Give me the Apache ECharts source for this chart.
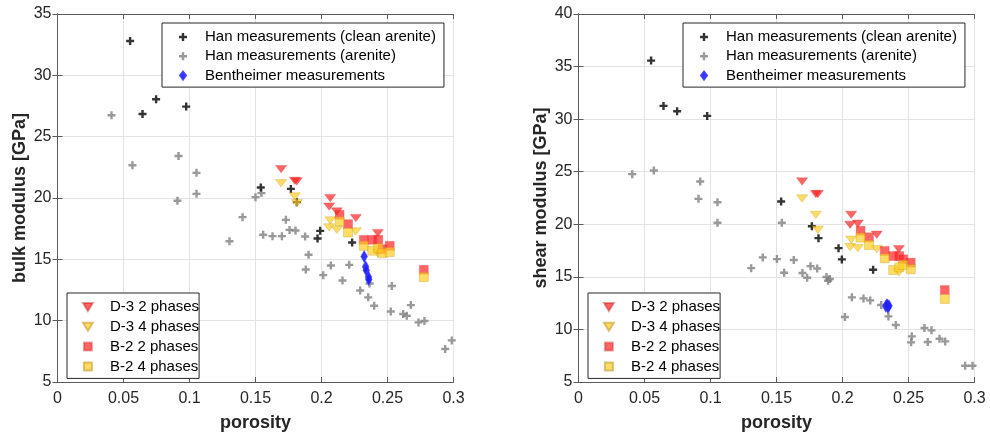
<!DOCTYPE html>
<html>
<head>
<meta charset="utf-8">
<script src="https://cdn.jsdelivr.net/npm/echarts@6/dist/echarts.min.js"></script>
<style>
html,body{margin:0;padding:0;background:#fff;}
#chart{width:990px;height:437px;}
</style>
</head>
<body>
<div id="chart"></div>
<script>
// ---------- data ----------
const xTicks = [0, 0.05, 0.1, 0.15, 0.2, 0.25, 0.3];
const seriesNames = ['Han measurements (clean arenite)', 'Han measurements (arenite)', 'Bentheimer measurements',
                     'D-3 2 phases', 'D-3 4 phases', 'B-2 2 phases', 'B-2 4 phases'];

// Han clean arenite
const hanCleanPhiK = [0.055, 0.0644, 0.0747, 0.0975, 0.154, 0.1768, 0.1813, 0.199, 0.197, 0.2232];
const hanCleanK    = [32.8, 26.85, 28.05, 27.45, 20.85, 20.74, 19.66, 17.32, 16.7, 16.37];
const hanCleanPhiG = [0.055, 0.0644, 0.0747, 0.0975, 0.1535, 0.1768, 0.1818, 0.197, 0.1995, 0.2232];
const hanCleanG    = [35.57, 31.26, 30.75, 30.31, 22.17, 19.82, 18.68, 17.73, 16.66, 15.67];

// Han arenite
const hanPhiK = [0.0409, 0.0568, 0.0917, 0.0909, 0.1053, 0.1053, 0.1303, 0.1402, 0.15, 0.1545, 0.1558, 0.1629, 0.17, 0.173, 0.1758, 0.1803, 0.1876, 0.1902, 0.1881, 0.2013, 0.2071, 0.2159, 0.221, 0.2293, 0.2354, 0.2364, 0.2399, 0.2533, 0.2525, 0.2619, 0.2646, 0.2677, 0.2735, 0.278, 0.2937, 0.2987];
const hanK    = [26.74, 22.67, 23.43, 19.77, 22.05, 20.34, 16.48, 18.44, 20.07, 20.4, 17.0, 16.89, 16.89, 18.22, 17.4, 17.35, 16.86, 15.37, 14.17, 13.71, 14.5, 13.28, 14.55, 12.46, 11.9, 13.03, 11.22, 12.82, 10.75, 10.54, 10.4, 11.27, 9.86, 9.97, 7.69, 8.39];
const hanPhiG = [0.0407, 0.0571, 0.0922, 0.0909, 0.1053, 0.1053, 0.1308, 0.1396, 0.1503, 0.1558, 0.1631, 0.154, 0.1697, 0.1732, 0.1758, 0.1808, 0.1879, 0.1891, 0.1904, 0.2018, 0.2071, 0.2159, 0.221, 0.2293, 0.2348, 0.2404, 0.2525, 0.252, 0.2621, 0.2674, 0.2646, 0.2735, 0.2778, 0.2929, 0.2985];
const hanG    = [24.77, 25.11, 24.07, 22.42, 22.1, 20.14, 15.83, 16.85, 16.69, 15.39, 16.6, 20.14, 15.36, 14.91, 16.02, 15.8, 14.98, 14.63, 14.79, 11.18, 13.05, 12.95, 12.76, 12.32, 11.24, 10.42, 9.34, 8.77, 10.13, 9.91, 8.8, 9.12, 8.86, 6.55, 6.55];

// Bentheimer
const benPhiK = [0.2323, 0.2334, 0.2339, 0.2356, 0.2358];
const benK    = [15.23, 14.4, 14.1, 13.55, 13.35];
const benPhiG = [0.2328, 0.2336, 0.2344, 0.2352, 0.2340];
const benG    = [12.2, 12.35, 12.1, 12.25, 12.3];

// D-3 sample
const d3Phi  = [0.1694, 0.1798, 0.1813, 0.2066, 0.2058, 0.2116, 0.226, 0.2427];
const d3K2ph = [22.35, 21.4, 21.35, 19.99, 19.3, 18.9, 18.36, 17.14];
const d3K4ph = [21.2, 20.12, 19.58, 18.17, 17.6, 17.4, 17.27, 15.5];
const d3G2ph = [24.07, 22.87, 22.87, 20.9, 19.95, 20.05, 19.0, 17.64];
const d3G4ph = [22.45, 20.9, 19.48, 18.53, 17.83, 17.73, 17.64, 15.42];

// B-2 sample
const b2Phi  = [0.2137, 0.2201, 0.232, 0.2384, 0.243, 0.246, 0.2517, 0.2775];
const b2K2ph = [18.63, 17.87, 16.59, 16.59, 16.6, 15.83, 16.1, 14.15];
const b2K4ph = [18.09, 17.19, 16.1, 15.7, 15.9, 15.5, 15.59, 13.55];
const b2G2ph = [19.39, 18.76, 17.46, 16.98, 16.98, 16.67, 16.35, 13.75];
const b2G4ph = [18.73, 18.03, 16.76, 15.65, 15.9, 16.13, 15.72, 12.9];

// ---------- chart ----------
const FONT = '"Liberation Sans", Arial, Helvetica, sans-serif';
const AX = '#262626';
const AXL = '#5a5a5a';
const PLUS = 'path://M0,2.8H2.8V0H5.2V2.8H8V5.2H5.2V8H2.8V5.2H0Z';
const TRI_DOWN = 'path://M0,0L11,0L5.5,9Z';
const DIAMOND = 'path://M4.5,0L9,6L4.5,12L0,6Z';
const SQUARE = 'path://M0,0H9V9H0Z';
const zip = (xs, ys) => xs.map((x, i) => [x, ys[i]]);

const grids = [
  {left: 57.5, top: 14, width: 396, height: 368},
  {left: 578.5, top: 14, width: 396, height: 368}
];

function xAxes(gi) {
  return [
    {gridIndex: gi, type: 'value', min: 0, max: 0.3, interval: 0.05, position: 'bottom',
     axisLine: {show: true, lineStyle: {color: AXL, width: 1}},
     axisTick: {show: true, inside: true, length: 5, lineStyle: {color: AXL}},
     axisLabel: {fontSize: 16, color: AX, fontFamily: FONT, margin: 9,
                 formatter: v => String(parseFloat(v.toFixed(2)))},
     splitLine: {show: true, lineStyle: {color: '#e3e3e3', width: 1}},
     name: 'porosity', nameLocation: 'middle', nameGap: 32,
     nameTextStyle: {fontSize: 18, fontWeight: 'bold', color: AX, fontFamily: FONT}},
    {gridIndex: gi, type: 'value', min: 0, max: 0.3, interval: 0.05, position: 'top',
     axisLine: {show: true, lineStyle: {color: AXL, width: 1}},
     axisTick: {show: true, inside: true, length: 5, lineStyle: {color: AXL}},
     axisLabel: {show: false}, splitLine: {show: false}}
  ];
}
function yAxes(gi, max, name) {
  return [
    {gridIndex: gi, type: 'value', min: 5, max: max, interval: 5, position: 'left',
     axisLine: {show: true, lineStyle: {color: AXL, width: 1}},
     axisTick: {show: true, inside: true, length: 5, lineStyle: {color: AXL}},
     axisLabel: {fontSize: 16, color: AX, fontFamily: FONT, margin: 6},
     splitLine: {show: true, lineStyle: {color: '#e3e3e3', width: 1}},
     name: name, nameLocation: 'middle', nameGap: 28, nameRotate: 90,
     nameTextStyle: {fontSize: 18, fontWeight: 'bold', color: AX, fontFamily: FONT}},
    {gridIndex: gi, type: 'value', min: 5, max: max, interval: 5, position: 'right',
     axisLine: {show: true, lineStyle: {color: AXL, width: 1}},
     axisTick: {show: true, inside: true, length: 5, lineStyle: {color: AXL}},
     axisLabel: {show: false}, splitLine: {show: false}}
  ];
}

function makeSeries(xi, yi, sets) {
  const common = {type: 'scatter', xAxisIndex: xi, yAxisIndex: yi, symbolKeepAspect: true, emphasis: {disabled: true}};
  return [
    Object.assign({}, common, {name: seriesNames[1], data: sets.han, symbol: PLUS, symbolSize: 8,
      itemStyle: {color: '#808080'}}),
    Object.assign({}, common, {name: seriesNames[0], data: sets.clean, symbol: PLUS, symbolSize: 8,
      itemStyle: {color: '#000000'}}),
    Object.assign({}, common, {name: seriesNames[2], data: sets.ben, symbol: DIAMOND, symbolSize: [9, 12],
      itemStyle: {color: '#1f1fff', opacity: 0.9, borderColor: '#3a3aff', borderWidth: 0.5}}),
    Object.assign({}, common, {name: seriesNames[3], data: sets.d32, symbol: TRI_DOWN, symbolSize: [11, 9],
      itemStyle: {color: 'rgba(255,30,30,0.85)', borderColor: 'rgba(200,40,40,0.6)', borderWidth: 0.6}}),
    Object.assign({}, common, {name: seriesNames[4], data: sets.d34, symbol: TRI_DOWN, symbolSize: [11, 9],
      itemStyle: {color: 'rgba(255,205,30,0.85)', borderColor: 'rgba(190,150,40,0.7)', borderWidth: 0.6}}),
    Object.assign({}, common, {name: seriesNames[5], data: sets.b22, symbol: SQUARE, symbolSize: 9,
      itemStyle: {color: 'rgba(255,30,30,0.85)', borderColor: 'rgba(200,40,40,0.5)', borderWidth: 0.5}}),
    Object.assign({}, common, {name: seriesNames[6], data: sets.b24, symbol: SQUARE, symbolSize: 9,
      itemStyle: {color: 'rgba(255,205,30,0.85)', borderColor: 'rgba(190,150,40,0.7)', borderWidth: 0.6}})
  ];
}

function legend(names, left, top, padding, gap) {
  return {
    data: names, orient: 'vertical', left: left, top: top, padding: padding,
    itemWidth: 34, itemHeight: 8, itemGap: gap,
    borderColor: AX, borderWidth: 1, backgroundColor: '#ffffff',
    selectedMode: false,
    textStyle: {fontSize: 15, color: '#000', fontFamily: FONT, lineHeight: 15}
  };
}

const option = {
  animation: false,
  grid: grids,
  xAxis: xAxes(0).concat(xAxes(1)),
  yAxis: yAxes(0, 35, 'bulk modulus [GPa]').concat(yAxes(1, 40, 'shear modulus [GPa]')),
  legend: [
    legend(seriesNames.slice(0, 3), 162, 23, [6.5, 8, 4, 17], 4.3),
    legend(seriesNames.slice(3), 67, 293, [6.5, 0, 4.5, 15], 4.8),
    legend(seriesNames.slice(0, 3), 683, 23, [6.5, 8, 4, 17], 4.3),
    legend(seriesNames.slice(3), 588, 293, [6.5, 0, 4.5, 15], 4.8)
  ],
  series: makeSeries(0, 0, {
    han: zip(hanPhiK, hanK), clean: zip(hanCleanPhiK, hanCleanK), ben: zip(benPhiK, benK),
    d32: zip(d3Phi, d3K2ph), d34: zip(d3Phi, d3K4ph), b22: zip(b2Phi, b2K2ph), b24: zip(b2Phi, b2K4ph)
  }).concat(makeSeries(2, 2, {
    han: zip(hanPhiG, hanG), clean: zip(hanCleanPhiG, hanCleanG), ben: zip(benPhiG, benG),
    d32: zip(d3Phi, d3G2ph), d34: zip(d3Phi, d3G4ph), b22: zip(b2Phi, b2G2ph), b24: zip(b2Phi, b2G4ph)
  }))
};

const chart = echarts.init(document.getElementById('chart'), null, {renderer: 'canvas'});
chart.setOption(option);
</script>
</body>
</html>
